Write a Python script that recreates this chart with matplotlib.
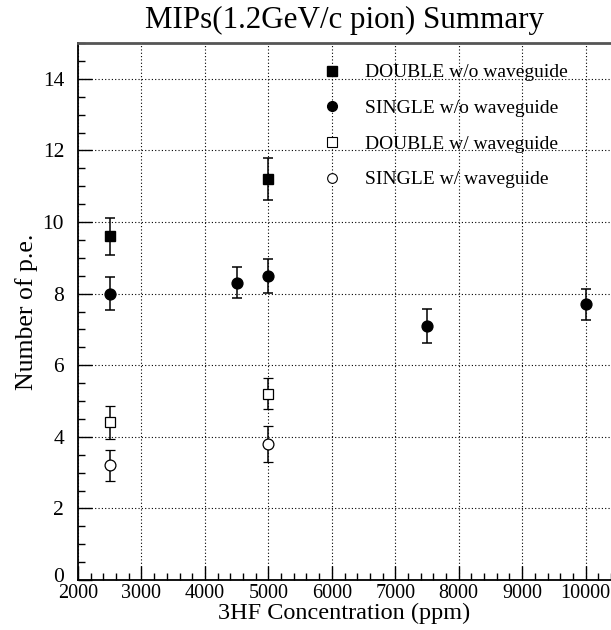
import matplotlib
matplotlib.use("Agg")
import matplotlib.pyplot as plt
from matplotlib.ticker import MultipleLocator
from matplotlib.lines import Line2D
from matplotlib.transforms import ScaledTranslation

plt.rcParams['font.family'] = ['Liberation Serif', 'DejaVu Serif']

# Data
double_wo_x = [2500, 5000]
double_wo_y = [9.6, 11.2]
double_wo_e = [0.52, 0.59]

single_wo_x = [2500, 4500, 5000, 7500, 10000]
single_wo_y = [8.0, 8.3, 8.5, 7.1, 7.7]
single_wo_e = [0.45, 0.43, 0.47, 0.47, 0.43]

double_w_x = [2500, 5000]
double_w_y = [4.4, 5.2]
double_w_e = [0.45, 0.43]

single_w_x = [2500, 5000]
single_w_y = [3.2, 3.8]
single_w_e = [0.43, 0.51]

labels = ["DOUBLE w/o waveguide", "SINGLE w/o waveguide",
          "DOUBLE w/ waveguide", "SINGLE w/ waveguide"]

fig = plt.figure(figsize=(6.11, 6.30), dpi=100)
ax = fig.add_axes([78/611, 1-580/630, (611-78)/611, (580-43)/630])

common = dict(color='black', ecolor='black', elinewidth=1.1, capsize=3.6,
              capthick=1.1, linestyle='none')
ax.errorbar(double_wo_x, double_wo_y, yerr=double_wo_e, marker='s', markersize=7,
            markerfacecolor='black', **common)
ax.errorbar(single_wo_x, single_wo_y, yerr=single_wo_e, marker='o', markersize=7.8,
            markerfacecolor='black', **common)
ax.errorbar(double_w_x, double_w_y, yerr=double_w_e, marker='s', markersize=7,
            markerfacecolor='white', markeredgewidth=0.9, **common)
ax.errorbar(single_w_x, single_w_y, yerr=single_w_e, marker='o', markersize=7.8,
            markerfacecolor='white', markeredgewidth=0.9, **common)

ax.set_xlim(2000, 10400)
ax.set_ylim(0, 15)
ax.xaxis.set_major_locator(MultipleLocator(1000))
ax.xaxis.set_minor_locator(MultipleLocator(200))
ax.yaxis.set_major_locator(MultipleLocator(2))
ax.yaxis.set_minor_locator(MultipleLocator(0.5))
ax.grid(True, which='major', linestyle=(0, (1, 2)), color='black', linewidth=0.8)
ax.set_axisbelow(True)

ax.tick_params(which='both', direction='in', top=False, right=False,
               labelsize=14.5, width=1)
ax.tick_params(axis='y', which='major', length=10, pad=10, labelsize=15.5)
ax.tick_params(axis='x', which='major', length=10, pad=3)
ax.tick_params(which='minor', length=5)
for s in ['left', 'bottom']:
    ax.spines[s].set_linewidth(1.3)
ax.spines['top'].set_color('#555555')
ax.spines['top'].set_linewidth(2)
ax.spines['right'].set_visible(False)

ax.set_xlabel("3HF Concentration (ppm)", fontsize=17.5, labelpad=0)
ax.set_ylabel("Number of p.e.", fontsize=18.5, labelpad=3)
fig.text(344/611, 1-20/630, "MIPs(1.2GeV/c pion) Summary", ha='center',
         va='center', fontsize=22.3)

handles = [
    Line2D([], [], marker='s', color='black', markerfacecolor='black', linestyle='none', markersize=6.5),
    Line2D([], [], marker='o', color='black', markerfacecolor='black', linestyle='none', markersize=7),
    Line2D([], [], marker='s', color='black', markerfacecolor='white', linestyle='none', markersize=6.5, markeredgewidth=0.8),
    Line2D([], [], marker='o', color='black', markerfacecolor='white', linestyle='none', markersize=7, markeredgewidth=0.8),
]
ax.legend(handles, labels, loc='upper left', bbox_to_anchor=((314-78)/533, 1-(56-43)/537),
          frameon=False, fontsize=14, handlelength=1.0, handletextpad=1.2,
          labelspacing=0.93, borderaxespad=0)

# nudge the "0" y tick label up slightly so it does not collide with "2000"
fig.canvas.draw()
for tick in ax.yaxis.get_major_ticks():
    if abs(tick.get_loc()) < 1e-9:
        lbl = tick.label1
        lbl.set_transform(lbl.get_transform() + ScaledTranslation(0, 0.05, fig.dpi_scale_trans))

fig.savefig("out.png", dpi=100)
